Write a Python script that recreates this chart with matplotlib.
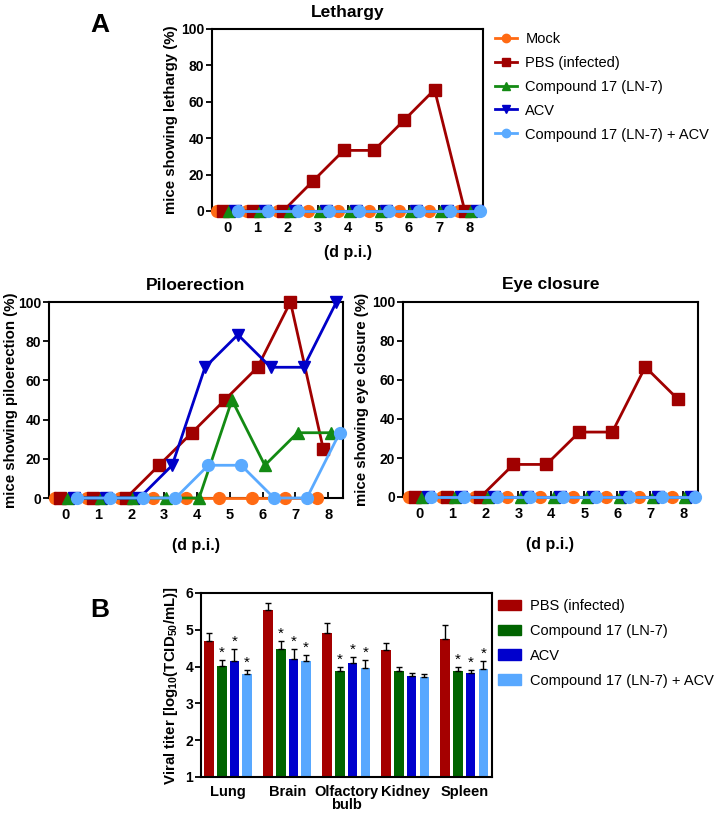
import numpy as np
import matplotlib
matplotlib.use("Agg")
from matplotlib import pyplot as plt
from matplotlib.patches import Patch
from matplotlib.lines import Line2D

plt.rcParams["font.family"] = ["Liberation Sans", "DejaVu Sans"]
plt.rcParams["mathtext.fontset"] = "custom"
plt.rcParams["mathtext.bf"] = "Liberation Sans:bold"
plt.rcParams["mathtext.rm"] = "Liberation Sans:bold"

# symptom scores, % of mice per day post infection
days = [0, 1, 2, 3, 4, 5, 6, 7, 8]
groups = ["Mock", "PBS (infected)", "Compound 17 (LN-7)", "ACV", "Compound 17 (LN-7) + ACV"]

lethargy_mock = [0, 0, 0, 0, 0, 0, 0, 0, 0]
lethargy_pbs = [0, 0, 0, 16.7, 33.3, 33.3, 50, 66.7, 0]
lethargy_cpd = [0, 0, 0, 0, 0, 0, 0, 0, 0]
lethargy_acv = [0, 0, 0, 0, 0, 0, 0, 0, 0]
lethargy_combo = [0, 0, 0, 0, 0, 0, 0, 0, 0]

pilo_mock = [0, 0, 0, 0, 0, 0, 0, 0, 0]
pilo_pbs = [0, 0, 0, 16.7, 33.3, 50, 66.7, 100, 25]
pilo_cpd = [0, 0, 0, 0, 0, 50, 16.7, 33.3, 33.3]
pilo_acv = [0, 0, 0, 16.7, 66.7, 83.3, 66.7, 66.7, 100]
pilo_combo = [0, 0, 0, 0, 16.7, 16.7, 0, 0, 33.3]

eye_mock = [0, 0, 0, 0, 0, 0, 0, 0, 0]
eye_pbs = [0, 0, 0, 16.7, 16.7, 33.3, 33.3, 66.7, 50]
eye_cpd = [0, 0, 0, 0, 0, 0, 0, 0, 0]
eye_acv = [0, 0, 0, 0, 0, 0, 0, 0, 0]
eye_combo = [0, 0, 0, 0, 0, 0, 0, 0, 0]

# viral titers (log10 TCID50/mL), mean and upper SD
organs = ["Lung", "Brain", "Olfactory\nbulb", "Kidney", "Spleen"]
bar_groups = ["PBS (infected)", "Compound 17 (LN-7)", "ACV", "Compound 17 (LN-7) + ACV"]
titer_pbs = [4.69, 5.55, 4.92, 4.46, 4.75]
titer_cpd = [4.02, 4.49, 3.89, 3.89, 3.89]
titer_acv = [4.16, 4.20, 4.09, 3.75, 3.83]
titer_combo = [3.80, 4.16, 3.97, 3.72, 3.94]
err_pbs = [0.22, 0.18, 0.26, 0.19, 0.37]
err_cpd = [0.16, 0.20, 0.09, 0.09, 0.09]
err_acv = [0.31, 0.27, 0.18, 0.07, 0.08]
err_combo = [0.11, 0.15, 0.21, 0.08, 0.22]
sig_cpd = [True, True, True, False, True]
sig_acv = [True, True, True, False, True]
sig_combo = [True, True, True, False, True]

line_colors = ["#ff6a13", "#a00000", "#138a13", "#0000c8", "#5aaaff"]
markers = ["o", "s", "^", "v", "o"]
offsets = [-0.33, -0.15, 0.07, 0.25, 0.35]
bar_colors = ["#a50000", "#006400", "#0000cd", "#58a8ff"]

W, H = 720, 814


def px_axes(fig, left, top, right, bottom):
    return fig.add_axes([left / W, 1 - bottom / H, (right - left) / W, (bottom - top) / H])


def style_axes(ax):
    for s in ax.spines.values():
        s.set_linewidth(1.5)
    ax.tick_params(axis="y", direction="out", length=4, width=1.3, labelsize=10, pad=1.5)
    ax.tick_params(axis="x", direction="in", length=4, width=1.3, labelsize=10.5, pad=7.5)
    for lbl in ax.get_xticklabels() + ax.get_yticklabels():
        lbl.set_fontweight("bold")


def symptom_plot(ax, series, title, ylabel, xpad, ypad):
    x = np.array(days)
    for i, vals in enumerate(series):
        ax.plot(x + offsets[i], vals, color=line_colors[i], marker=markers[i],
                markersize=8.5, linewidth=2, clip_on=False, zorder=3 + i)
    ax.set_xlim(-0.5, 8.45)
    ax.set_ylim(0, 100)
    ax.set_xticks(days)
    ax.set_yticks([0, 20, 40, 60, 80, 100])
    ax.set_title(title, fontsize=12.5, fontweight="bold", pad=9)
    ax.set_ylabel(ylabel, fontsize=10.8, fontweight="bold", labelpad=ypad)
    ax.set_xlabel("(d p.i.)", fontsize=11.5, fontweight="bold", labelpad=xpad)
    style_axes(ax)


fig = plt.figure(figsize=(7.2, 8.14), dpi=100)

ax1 = px_axes(fig, 212, 29, 483, 211)
symptom_plot(ax1, [lethargy_mock, lethargy_pbs, lethargy_cpd, lethargy_acv, lethargy_combo],
             "Lethargy", "mice showing lethargy (%)", 7, 2)

ax2 = px_axes(fig, 49, 302, 343, 498)
symptom_plot(ax2, [pilo_mock, pilo_pbs, pilo_cpd, pilo_acv, pilo_combo],
             "Piloerection", "mice showing piloerection (%)", 11.5, 0)

ax3 = px_axes(fig, 403, 302, 698, 497)
symptom_plot(ax3, [eye_mock, eye_pbs, eye_cpd, eye_acv, eye_combo],
             "Eye closure", "mice showing eye closure (%)", 11.5, 2)

line_handles = [Line2D([], [], color=line_colors[i], marker=markers[i], markersize=6,
                       linewidth=2) for i in range(len(groups))]
fig.legend(line_handles, groups, loc="upper left", bbox_to_anchor=(489 / W, 1 - 26 / H),
           frameon=False, fontsize=10.5, handlelength=1.5, labelspacing=0.68,
           handletextpad=0.6, borderaxespad=0)

# bar chart
ax4 = px_axes(fig, 201, 593, 492, 777)
x = np.arange(len(organs))
step = 0.215
width = 0.16
titers = [titer_pbs, titer_cpd, titer_acv, titer_combo]
errs = [err_pbs, err_cpd, err_acv, err_combo]
sigs = [None, sig_cpd, sig_acv, sig_combo]
for i in range(4):
    pos = x + (i - 1.5) * step
    ax4.bar(pos, np.array(titers[i]) - 1, width, bottom=1, color=bar_colors[i],
            yerr=[np.zeros(len(organs)), errs[i]], capsize=2,
            error_kw=dict(elinewidth=1, capthick=1, ecolor="black"))
    if sigs[i] is not None:
        for j in range(len(organs)):
            if sigs[i][j]:
                ax4.text(pos[j], titers[i][j] + errs[i][j] + 0.01, "*", ha="center",
                         va="bottom", fontsize=11)
ax4.set_xlim(-0.46, 4.47)
ax4.set_ylim(1, 6)
ax4.set_yticks([1, 2, 3, 4, 5, 6])
ax4.set_xticks(x)
ax4.set_xticklabels(organs, linespacing=0.9)
ax4.set_ylabel(r"Viral titer [log$_{\mathbf{10}}$(TCID$_{\mathbf{50}}$/mL)]",
               fontsize=10.8, fontweight="bold", labelpad=4)
style_axes(ax4)
ax4.tick_params(axis="x", length=0, labelsize=10.5, pad=6)

bar_handles = [Patch(color=c) for c in bar_colors]
fig.legend(bar_handles, bar_groups, loc="upper left", bbox_to_anchor=(492 / W, 1 - 593 / H),
           frameon=False, fontsize=10.5, handlelength=1.6, handleheight=0.7,
           labelspacing=0.75, handletextpad=0.6, borderaxespad=0)

fig.text(100 / W, 1 - 25 / H, "A", fontsize=19, fontweight="bold", ha="center", va="center")
fig.text(100 / W, 1 - 610 / H, "B", fontsize=19, fontweight="bold", ha="center", va="center")

fig.savefig("out.png", dpi=100)
